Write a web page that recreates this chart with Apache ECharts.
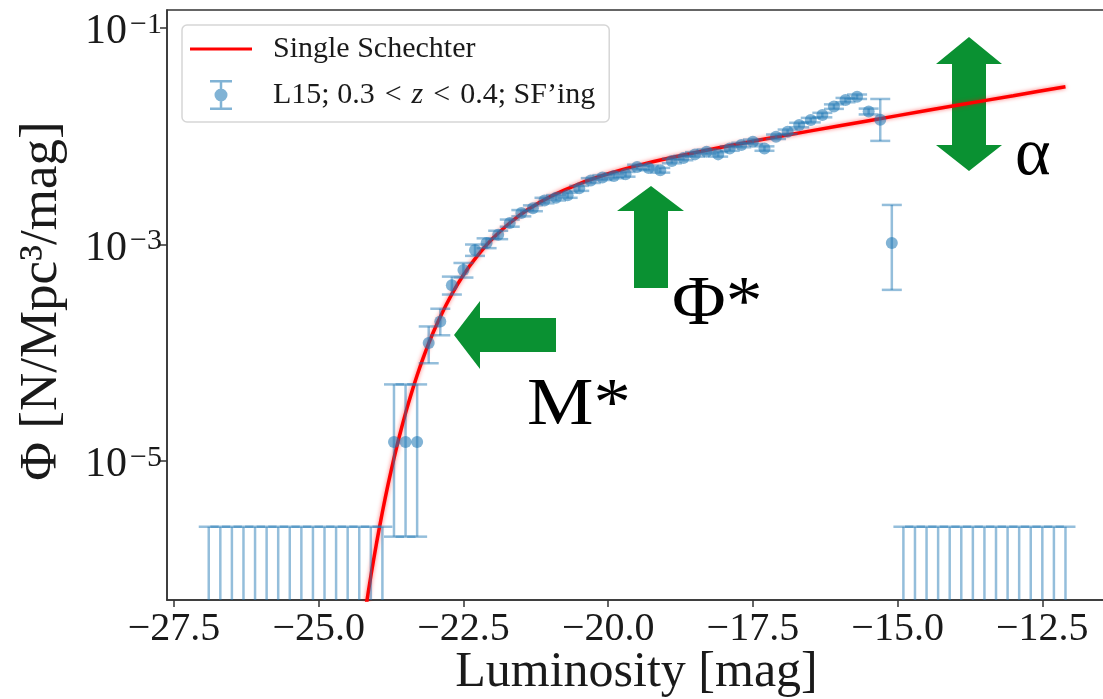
<!DOCTYPE html>
<html>
<head>
<meta charset="utf-8">
<script src="https://cdn.jsdelivr.net/npm/echarts@6/dist/echarts.min.js"></script>
<style>
  html, body { margin: 0; padding: 0; background: #ffffff; }
  #chart { width: 1103px; height: 699px; }
</style>
</head>
<body>
<div id="chart"></div>
<script>
// Best-fit single Schechter function, sampled along the magnitude axis
const curveM = [-24.2, -24.1, -24.0, -23.9, -23.8, -23.7, -23.6, -23.5, -23.4, -23.3, -23.2, -23.1, -23.0,
  -22.8, -22.6, -22.4, -22.2, -22.0, -21.7, -21.4, -21.0, -20.5, -20.0, -19.5, -19.0, -18.0, -17.0,
  -16.0, -15.0, -14.0, -13.0, -12.1];
const curvePhi = [3.95e-7, 8.63e-7, 1.76e-6, 3.38e-6, 6.15e-6, 1.06e-5, 1.75e-5, 2.77e-5, 4.21e-5, 6.19e-5,
  8.81e-5, 1.22e-4, 1.64e-4, 2.76e-4, 4.30e-4, 6.25e-4, 8.61e-4, 1.13e-3, 1.58e-3, 2.08e-3, 2.77e-3,
  3.64e-3, 4.50e-3, 5.35e-3, 6.19e-3, 8.00e-3, 1.005e-2, 1.25e-2, 1.55e-2, 1.92e-2, 2.37e-2, 2.87e-2];

// L15 luminosity function, 0.3 < z < 0.4, star-forming galaxies
const lfM = [-23.7, -23.5, -23.3, -23.1, -22.9, -22.7, -22.5, -22.3, -22.1, -21.9, -21.7, -21.5, -21.3,
  -21.1, -20.9, -20.7, -20.5, -20.3, -20.1, -19.9, -19.7, -19.5, -19.3, -19.1, -18.9, -18.7, -18.5,
  -18.3, -18.1, -17.9, -17.7, -17.5, -17.3, -17.1, -16.9, -16.7, -16.5, -16.3, -16.1, -15.9, -15.7,
  -15.5, -15.3, -15.1];
const lfPhi = [1.5e-5, 1.5e-5, 1.5e-5, 1.23e-4, 1.94e-4, 4.2e-4, 5.8e-4, 8.9e-4, 1.03e-3, 1.23e-3, 1.58e-3,
  1.95e-3, 2.16e-3, 2.55e-3, 2.70e-3, 2.85e-3, 3.30e-3, 3.90e-3, 4.15e-3, 4.30e-3, 4.45e-3, 5.20e-3,
  5.10e-3, 4.85e-3, 5.90e-3, 6.30e-3, 6.80e-3, 7.20e-3, 6.80e-3, 7.70e-3, 8.30e-3, 8.90e-3, 7.70e-3,
  9.90e-3, 1.10e-2, 1.27e-2, 1.41e-2, 1.57e-2, 1.88e-2, 2.16e-2, 2.32e-2, 1.69e-2, 1.42e-2, 1.03e-3];
const lfLo = [2.0e-6, 2.0e-6, 2.0e-6, 8.0e-5, 1.45e-4, 3.45e-4, 4.95e-4, 7.85e-4, 9.25e-4, 1.12e-3, 1.46e-3,
  1.82e-3, 2.03e-3, 2.40e-3, 2.55e-3, 2.70e-3, 3.13e-3, 3.70e-3, 3.94e-3, 4.09e-3, 4.23e-3, 4.95e-3,
  4.85e-3, 4.61e-3, 5.62e-3, 6.00e-3, 6.48e-3, 6.86e-3, 6.48e-3, 7.34e-3, 7.91e-3, 8.48e-3, 7.34e-3,
  9.43e-3, 1.048e-2, 1.21e-2, 1.343e-2, 1.495e-2, 1.79e-2, 2.06e-2, 2.21e-2, 1.59e-2, 9.06e-3, 3.81e-4];
const lfHi = [5.1e-5, 5.1e-5, 5.1e-5, 1.75e-4, 2.55e-4, 5.05e-4, 6.75e-4, 1.0e-3, 1.14e-3, 1.34e-3, 1.70e-3,
  2.08e-3, 2.30e-3, 2.70e-3, 2.86e-3, 3.01e-3, 3.48e-3, 4.10e-3, 4.37e-3, 4.52e-3, 4.68e-3, 5.46e-3,
  5.36e-3, 5.10e-3, 6.20e-3, 6.61e-3, 7.13e-3, 7.55e-3, 7.13e-3, 8.07e-3, 8.70e-3, 9.33e-3, 8.07e-3,
  1.038e-2, 1.153e-2, 1.332e-2, 1.478e-2, 1.646e-2, 1.97e-2, 2.26e-2, 2.43e-2, 1.80e-2, 2.21e-2, 2.32e-3];

// Empty bins: only an upper error bar is drawn
const ulimM = [-26.9, -26.7, -26.5, -26.3, -26.1, -25.9, -25.7, -25.5, -25.3, -25.1, -24.9, -24.7, -24.5,
  -24.3, -24.1, -23.9, -14.9, -14.7, -14.5, -14.3, -14.1, -13.9, -13.7, -13.5, -13.3, -13.1, -12.9,
  -12.7, -12.5, -12.3, -12.1];
const ulimHi = [2.47e-6, 2.47e-6, 2.47e-6, 2.47e-6, 2.47e-6, 2.47e-6, 2.47e-6, 2.47e-6, 2.47e-6, 2.47e-6,
  2.47e-6, 2.47e-6, 2.47e-6, 2.47e-6, 2.47e-6, 2.47e-6, 2.47e-6, 2.47e-6, 2.47e-6, 2.47e-6, 2.47e-6,
  2.47e-6, 2.47e-6, 2.47e-6, 2.47e-6, 2.47e-6, 2.47e-6, 2.47e-6, 2.47e-6, 2.47e-6, 2.47e-6];

// Axis ticks
const xTicks = [-27.5, -25.0, -22.5, -20.0, -17.5, -15.0, -12.5];
const yTicks = [1e-1, 1e-3, 1e-5];

const LINE_NAME = 'Single Schechter';
const DATA_NAME = "L15; 0.3 < z < 0.4; SF'ing";
const SERIF = '"Liberation Serif", "DejaVu Serif", serif';
const INK = '#1a1a1a';
const RED = '#ff0000';
const BLUE_PT = 'rgba(31,119,180,0.7)';
const BLUE_BAR = 'rgba(31,119,180,0.48)';
const GREEN = '#0a9132';
const CAP = 10;
const MSP = '\u2004'; // wider space around relations, as in math mode

function fmtMinus(v) {
  return (v < 0 ? '\u2212' : '') + Math.abs(v).toFixed(1);
}

function errorBarItem(params, api) {
  const x = api.value(0);
  const lo = api.coord([x, api.value(1)]);
  const hi = api.coord([x, api.value(2)]);
  const style = { stroke: BLUE_BAR, lineWidth: 2.5, fill: null };
  return {
    type: 'group',
    children: [
      { type: 'line', shape: { x1: lo[0], y1: lo[1], x2: hi[0], y2: hi[1] }, style },
      { type: 'line', shape: { x1: lo[0] - CAP, y1: lo[1], x2: lo[0] + CAP, y2: lo[1] }, style },
      { type: 'line', shape: { x1: hi[0] - CAP, y1: hi[1], x2: hi[0] + CAP, y2: hi[1] }, style }
    ]
  };
}

function upperLimitItem(params, api) {
  const x = api.value(0);
  const hi = api.coord([x, api.value(1)]);
  const bottom = params.coordSys.y + params.coordSys.height + 20;
  const style = { stroke: BLUE_BAR, lineWidth: 2.5, fill: null };
  return {
    type: 'group',
    children: [
      { type: 'line', shape: { x1: hi[0], y1: bottom, x2: hi[0], y2: hi[1] }, style },
      { type: 'line', shape: { x1: hi[0] - CAP, y1: hi[1], x2: hi[0] + CAP, y2: hi[1] }, style }
    ]
  };
}

// Legend icons: a plain line for the fit, an error bar with marker for the data
const LINE_ICON = 'path://M0,0L62,0Z M0,13.5h62v3h-62z M0,30L62,30Z';
const ERRBAR_ICON = 'path://M0,15L62,15Z M29.75,0h2.5v30h-2.5z M20,0h22v2.5h-22z M20,27.5h22v2.5h-22z ' +
  'M24.5,15a6.5,6.5 0 1,1 13,0a6.5,6.5 0 1,1 -13,0z';

function arrow(points) {
  return { type: 'polygon', z: 1, shape: { points }, style: { fill: GREEN } };
}

const chart = echarts.init(document.getElementById('chart'), null, { renderer: 'canvas' });

chart.setOption({
  animation: false,
  backgroundColor: '#ffffff',
  grid: {
    left: 167, right: -3, top: 10, bottom: 99,
    show: true, borderColor: '#333333', borderWidth: 1.5,
    containLabel: false, outerBoundsMode: 'none'
  },
  legend: {
    orient: 'vertical',
    left: 182, top: 25,
    padding: [9, 14, 12, 8],
    itemWidth: 62, itemHeight: 30, itemGap: 16,
    backgroundColor: 'rgba(255,255,255,0.85)',
    borderColor: '#d6d6d6', borderWidth: 1.5, borderRadius: 5,
    selectedMode: false,
    data: [
      { name: LINE_NAME, icon: LINE_ICON, itemStyle: { color: RED } },
      { name: DATA_NAME, icon: ERRBAR_ICON, itemStyle: { color: BLUE_PT } }
    ],
    formatter: function (name) {
      return name === DATA_NAME
        ? 'L15; 0.3' + MSP + '<' + MSP + '{i|z}' + MSP + '<' + MSP + '0.4; SF\u2019ing'
        : name;
    },
    textStyle: {
      fontFamily: SERIF, fontSize: 30, color: INK, lineHeight: 30, padding: [0, 0, 0, 16],
      rich: { i: { fontFamily: SERIF, fontSize: 30, fontStyle: 'italic', color: INK } }
    }
  },
  xAxis: {
    type: 'value',
    min: -27.621, max: -11.40,
    name: 'Luminosity [mag]',
    nameLocation: 'middle', nameGap: 48, nameMoveOverlap: false,
    nameTextStyle: { fontFamily: SERIF, fontSize: 50, color: INK, lineHeight: 50 },
    axisLine: { show: true, lineStyle: { color: '#333333', width: 1.5 } },
    axisTick: { show: true, length: 7, customValues: xTicks, lineStyle: { color: '#333333', width: 1.5 } },
    axisLabel: {
      customValues: xTicks, formatter: fmtMinus, margin: 9,
      fontFamily: SERIF, fontSize: 40, color: INK
    },
    splitLine: { show: false }
  },
  yAxis: {
    type: 'log', logBase: 10,
    min: 5.2e-7, max: 0.14663,
    name: '\u03A6 [N/Mpc\u00B3/mag]',
    nameLocation: 'middle', nameGap: 97, nameMoveOverlap: false,
    nameTextStyle: { fontFamily: SERIF, fontSize: 53, color: INK, lineHeight: 56, padding: [0, 0, 0, 8] },
    axisLine: { show: true, lineStyle: { color: '#333333', width: 1.5 } },
    axisTick: { show: true, length: 7, customValues: yTicks, lineStyle: { color: '#333333', width: 1.5 } },
    axisLabel: {
      customValues: yTicks, margin: 5, padding: [8, 0, 0, 0],
      formatter: function (v) {
        const e = Math.round(Math.log10(v));
        return '{b|10}{s|' + (e < 0 ? '\u2212' : '') + Math.abs(e) + '}';
      },
      rich: {
        b: { fontFamily: SERIF, fontSize: 42, color: INK, lineHeight: 44 },
        s: { fontFamily: SERIF, fontSize: 30, color: INK, lineHeight: 22, verticalAlign: 'top', padding: [0, 0, 0, 3] }
      }
    },
    minorTick: { show: false },
    splitLine: { show: false }
  },
  series: [
    {
      name: LINE_NAME,
      type: 'line',
      z: 2,
      data: curveM.map((m, i) => [m, curvePhi[i]]),
      symbol: 'none', showSymbol: false,
      smooth: 0.3,
      clip: true,
      lineStyle: { color: RED, width: 3.5, shadowBlur: 4, shadowColor: 'rgba(255,0,0,0.55)' },
      itemStyle: { color: RED }
    },
    {
      name: 'errbars',
      type: 'custom',
      z: 3,
      clip: true,
      renderItem: errorBarItem,
      encode: { x: 0, y: [1, 2] },
      data: lfM.map((m, i) => [m, lfLo[i], lfHi[i]])
    },
    {
      name: 'upperlimits',
      type: 'custom',
      z: 3,
      clip: true,
      renderItem: upperLimitItem,
      encode: { x: 0, y: 1 },
      data: ulimM.map((m, i) => [m, ulimHi[i]])
    },
    {
      name: DATA_NAME,
      type: 'scatter',
      z: 4,
      symbol: 'circle', symbolSize: 12,
      itemStyle: { color: BLUE_PT },
      data: lfM.map((m, i) => [m, lfPhi[i]])
    }
  ],
  graphic: [
    // M* : arrow pointing at the knee
    arrow([[454, 335], [480, 301], [480, 318], [556, 318], [556, 352], [480, 352], [480, 369]]),
    // Phi* : arrow pushing the normalisation
    arrow([[651, 186], [684, 211], [668, 211], [668, 288], [634, 288], [634, 211], [617, 211]]),
    // alpha : double-headed arrow for the faint-end slope
    arrow([[969, 37], [1002, 64], [986, 64], [986, 145], [1002, 145], [969, 171], [936, 145], [952, 145],
      [952, 64], [936, 64]]),
    { type: 'text', z: 5, x: 527, y: 406, scaleX: 1.1,
      style: { text: 'M*', font: '68px ' + SERIF, fill: '#000000', verticalAlign: 'middle' } },
    { type: 'text', z: 5, x: 672, y: 306, scaleX: 1.05,
      style: { text: '\u03A6*', font: '70px ' + SERIF, fill: '#000000', verticalAlign: 'middle' } },
    { type: 'text', z: 5, x: 1015, y: 156,
      style: { text: '\u03B1', font: '68px ' + SERIF, fill: '#000000', verticalAlign: 'middle' } }
  ]
});
</script>
</body>
</html>
